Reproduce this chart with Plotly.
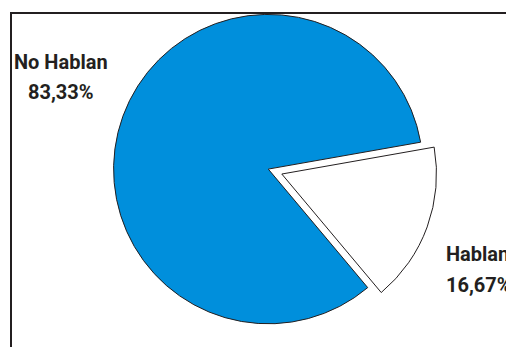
import plotly.graph_objects as go

labels = ["No Hablan", "Hablan"]
values = [83.33, 16.67]
value_text = ["83,33%", "16,67%"]
colors = ["#008fdc", "#ffffff"]

FONT = "Roboto, Liberation Sans, sans-serif"
TXT = "#231f20"

fig = go.Figure(go.Pie(
    labels=labels,
    values=values,
    sort=False,
    direction="clockwise",
    rotation=140,
    pull=[0, 0.093],
    marker=dict(colors=colors, line=dict(color=TXT, width=1)),
    textinfo="none",
    hoverinfo="none",
    domain=dict(x=[0.1960, 0.8644], y=[0.02536, 1.0]),
    showlegend=False,
))

# label annotations (text built from the data arrays)
ann_pos = [
    dict(x=61 / 506, anchor="center", y1=62, y2=92),
    dict(x=444 / 506, anchor="left", y1=254, y2=285),
]
for lab, vt, p in zip(labels, value_text, ann_pos):
    for txt, ypx in ((lab, p["y1"]), (vt, p["y2"])):
        fig.add_annotation(
            x=p["x"], y=1 - ypx / 347, xref="paper", yref="paper",
            text="<b>" + txt + "</b>", showarrow=False,
            xanchor=p["anchor"], yanchor="middle",
            font=dict(family=FONT, size=20, color=TXT),
        )

# frame: only left and top edges are visible in the reference
fx, fy = 11 / 506, 1 - 13 / 347
fig.add_shape(type="line", xref="paper", yref="paper",
              x0=fx, x1=fx, y0=-0.05, y1=fy + 0.5 / 347,
              line=dict(color=TXT, width=2), layer="below")
fig.add_shape(type="line", xref="paper", yref="paper",
              x0=fx - 1 / 506, x1=1.05, y0=fy, y1=fy,
              line=dict(color=TXT, width=2), layer="below")

fig.update_layout(
    width=506, height=347,
    margin=dict(l=0, r=0, t=0, b=0),
    paper_bgcolor="white", plot_bgcolor="white",
)

fig.write_html("out.html",
               config={"displayModeBar": False},
               post_script="document.body.style.margin='0';document.body.style.overflow='hidden';")
